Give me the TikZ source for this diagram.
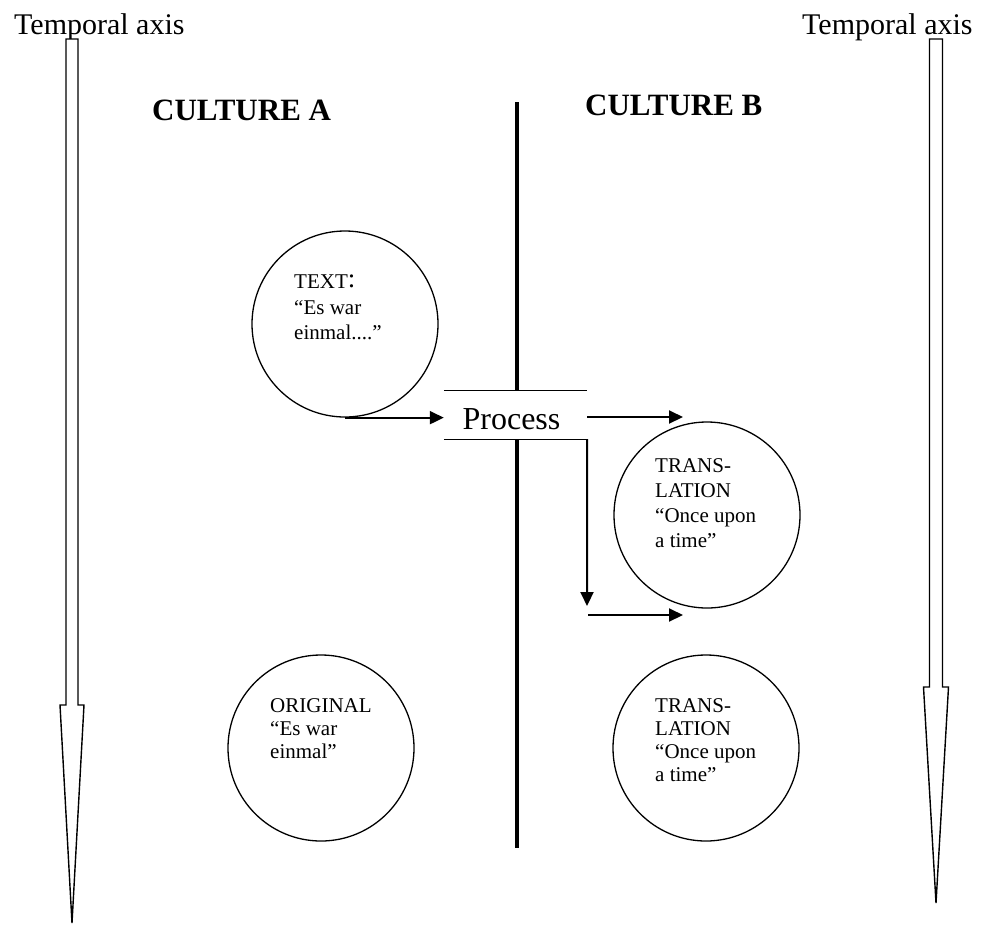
\documentclass[tikz,border=0pt]{standalone}
\usepackage{fontspec}
\setmainfont{Liberation Serif}
\usetikzlibrary{arrows.meta}
\begin{document}
\begin{tikzpicture}[x=1pt,y=-1pt,
  bubble/.style={circle, draw, line width=1.3pt, minimum size=186pt, inner sep=0pt},
  bubbletext/.style={anchor=north west, inner sep=0pt, align=left, font=\fontsize{21}{23}\selectfont},
  heading/.style={anchor=base west, inner sep=0pt, font=\fontsize{31}{36}\selectfont\bfseries},
  axislabel/.style={anchor=base west, inner sep=0pt, font=\fontsize{30}{34}\selectfont},
  flow/.style={line width=2pt, -{Triangle[length=14pt,width=13pt]}},
  rule/.style={line width=1.3pt},
  divider/.style={line width=3.5pt},
  timeaxis/.style={draw, line width=1.4pt, fill=white, line join=miter},
]
\useasboundingbox (0,0) rectangle (982,924);

% temporal axes (hollow block arrows)
\node[axislabel] (tleft) at (14,34) {Temporal axis};
\node[axislabel] (tright) at (802,34) {Temporal axis};
\draw[timeaxis] (66,39) -- (78,39) -- (78,705) -- (84,705) -- (72,923)
  -- (60,705) -- (66,705) -- cycle;
\draw[timeaxis] (929.5,39) -- (942.5,39) -- (942.5,687) -- (948.5,687)
  -- (936,903) -- (923.5,687) -- (929.5,687) -- cycle;

% headings
\node[heading] (culta) at (152,120) {CULTURE A};
\node[heading] (cultb) at (585,115) {CULTURE B};

% process box
\node[minimum width=143pt, minimum height=48pt, inner sep=0pt] (proc) at (515.5,415) {};
\node[anchor=base, inner sep=0pt, font=\fontsize{32}{36}\selectfont] (proclabel) at (511.5,429) {Process};
\draw[rule] (proc.north west) -- (proc.north east);

% dividing line between the cultures
\coordinate (divtop) at (517,102);
\coordinate (divbot) at (517,848);
\draw[divider] (divtop) -- (divtop |- proc.north);
\draw[divider] (divtop |- proc.south) -- (divbot);

% circles
\node[bubble] (textc) at (345,324) {};
\node[bubbletext, font=\fontsize{21}{25.5}\selectfont] (texttxt) at (294,275)
  {TEXT\raisebox{1pt}{\fontsize{27}{27}\selectfont:}\\``Es war\\einmal....''};
\node[bubble] (trans1) at (707,515) {};
\node[bubbletext, font=\fontsize{21}{25}\selectfont] (trans1txt) at (655,458) {TRANS-\\LATION\\``Once upon\\a time''};
\node[bubble] (orig) at (321,748) {};
\node[bubbletext] (origtxt) at (270,698) {ORIGINAL\\``Es war\\einmal''};
\node[bubble] (trans2) at (706,748) {};
\node[bubbletext] (trans2txt) at (655,698) {TRANS-\\LATION\\``Once upon\\a time''};

% flow arrows
\coordinate (upin) at (683,417);
\coordinate (downtip) at (587,606);
\coordinate (lowstart) at (588,615);
\coordinate (lowin) at (683,615);
\draw[flow] (textc.south) -- (textc.south -| proc.west);
\draw[flow] (proc.east |- upin) -- (upin);
\draw[rule] (proc.south west) -- (proc.south east);
\draw[flow] (proc.south east) -- (downtip);
\draw[flow] (lowstart) -- (lowin);
\end{tikzpicture}
\end{document}
